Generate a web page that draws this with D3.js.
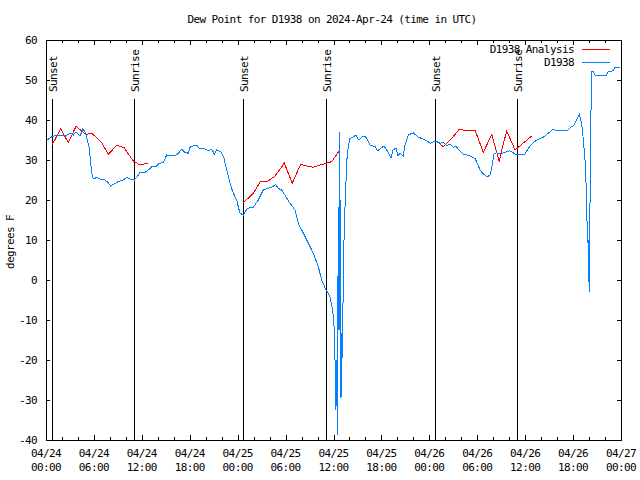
<!DOCTYPE html>
<html>
<head>
<meta charset="utf-8">
<script src="https://cdn.jsdelivr.net/npm/d3@7"></script>
<style>
  html, body { margin: 0; padding: 0; background: #fff; }
  svg { display: block; }
  text { font-family: "DejaVu Sans Mono", "Liberation Mono", monospace; font-size: 11px; letter-spacing: -0.6px; fill: #000; }
</style>
</head>
<body>
<svg id="chart" width="640" height="480"></svg>
<script>
// ---- Data (hours since 2024-04-24 00:00 UTC) ----
const title = "Dew Point for D1938 on 2024-Apr-24 (time in UTC)";
const yLabel = "degrees F";
const seriesNames = ["D1938 Analysis", "D1938"];
const seriesColors = ["#ff0000", "#0080ff"];

const xTickHours = [0, 6, 12, 18, 24, 30, 36, 42, 48, 54, 60, 66, 72];
const xTickDates = ["04/24","04/24","04/24","04/24","04/25","04/25","04/25","04/25","04/26","04/26","04/26","04/26","04/27"];
const xTickTimes = ["00:00","06:00","12:00","18:00","00:00","06:00","12:00","18:00","00:00","06:00","12:00","18:00","00:00"];
const xMinorHours = d3.range(0, 73, 2);
const yTicks = [-40, -30, -20, -10, 0, 10, 20, 30, 40, 50, 60];

const sunHours = [0.71, 11.06, 24.71, 35.10, 48.75, 59.02];
const sunLabels = ["Sunset", "Sunrise", "Sunset", "Sunrise", "Sunset", "Sunrise"];

// Analysis (red), null = gap
const redHours = [0.75, 1.84, 2.79, 3.76, 4.47, 4.97, 5.72, 6.97, 7.80, 8.85, 9.77, 10.93, 11.77, 12.81,
  18.0,
  24.71, 25.96, 26.80, 27.84, 28.68, 29.84, 30.84, 31.89, 32.72, 33.47, 34.22, 35.15, 35.78, 36.69,
  42.0,
  49.25, 49.75, 50.80, 51.75, 52.68, 53.72, 54.76, 55.81, 56.76, 57.0, 57.69, 58.73, 59.02, 60.82];
const redValues = [33.75, 37.75, 34.4, 38.4, 37.25, 36.4, 36.7, 34.4, 31.4, 33.7, 33.1, 29.75, 28.75, 29.25,
  null,
  19.3, 21.7, 24.5, 24.75, 26.0, 29.2, 24.2, 28.9, 28.5, 28.2, 28.7, 29.2, 29.6, 32.25,
  null,
  34.2, 33.3, 35.4, 37.7, 37.25, 37.5, 31.9, 36.4, 29.6, 32.0, 37.25, 32.5, 33.0, 36.0];

// Observations (blue)
const blueHours = [0.15, 0.71, 1.34, 1.97, 2.59, 3.09, 3.42, 3.76, 4.26, 4.60, 4.88, 5.17, 5.42, 5.60, 5.80,
  6.01, 6.35, 6.76, 7.39, 7.80, 8.10, 8.51, 9.05, 9.68, 10.10, 10.52, 11.06, 11.43, 11.77, 12.40, 12.81,
  13.24, 13.86, 14.15, 14.69, 15.11, 15.53, 16.37, 16.99, 17.41, 17.82, 18.03, 18.44, 18.87, 19.20, 19.91,
  20.32, 20.75, 21.07, 21.37, 21.91, 22.29, 22.63, 23.04, 23.38, 23.67, 23.88, 24.08, 24.29, 24.71, 25.21,
  25.96, 26.58, 27.21, 27.84, 28.26, 28.76, 29.09, 29.51, 30.05, 30.55, 31.18, 31.59, 32.22, 32.85, 33.47,
  34.10, 34.52, 35.02, 35.56, 35.85, 35.97, 36.10, 36.19, 36.31, 36.38, 36.48, 36.54, 36.60, 36.66, 36.72,
  36.79, 36.85, 36.94, 37.03, 37.10, 37.23, 37.35, 37.53, 37.65, 37.85, 38.07, 38.48, 38.82, 39.11, 39.41,
  39.73, 40.07, 40.57, 40.98, 41.28, 41.49, 41.82, 42.32, 42.82, 43.20, 43.45, 43.83, 44.08, 44.33, 44.74,
  44.95, 45.37, 45.99, 46.62, 47.04, 47.67, 48.17, 48.75, 49.34, 49.75, 50.18, 50.59, 51.00, 51.30, 51.63,
  52.25, 53.09, 53.72, 54.00, 54.35, 54.76, 55.26, 55.60, 55.81, 56.10, 56.44, 56.85, 57.26, 58.10, 58.73,
  59.98, 60.39, 60.82, 61.44, 62.27, 62.90, 63.52, 64.02, 65.40, 65.70, 66.03, 66.45, 66.78, 66.95, 67.16,
  67.28, 67.41, 67.53, 67.62, 67.71, 67.83, 67.91, 67.96, 68.03, 68.08, 68.21, 68.33, 68.53, 68.75, 70.21,
  70.41, 71.04, 71.25, 71.88];
const blueValues = [35.0, 35.8, 36.2, 36.0, 36.2, 36.7, 36.25, 37.0, 36.0, 37.7, 37.1, 35.0, 32.9, 29.2, 25.8,
  25.25, 25.7, 25.25, 25.0, 24.3, 23.5, 24.0, 24.6, 25.0, 25.7, 25.2, 25.0, 25.8, 26.9, 26.9, 27.5,
  28.3, 28.5, 29.2, 29.3, 31.25, 31.2, 31.25, 32.7, 31.9, 31.7, 33.2, 33.5, 33.7, 32.9, 32.8,
  32.3, 32.7, 31.5, 32.5, 32.1, 30.4, 27.5, 24.2, 22.1, 20.8, 20.0, 18.3, 16.7, 16.25, 17.9,
  18.2, 20.0, 22.5, 22.9, 23.2, 23.9, 22.9, 22.5, 20.8, 19.2, 17.5, 14.2, 11.7, 9.2, 6.7,
  3.3, 0.0, -2.3, -4.2, -7.1, -9.0, -12.5, -20.0, -32.5, -20.0, -38.75, -12.5, 18.3, -12.5, 37.1,
  -12.5, 20.0, -29.6, -13.3, -19.6, 0.0, 13.75, 22.5, 29.6, 33.3, 35.4, 35.8, 36.25, 35.0, 35.4,
  36.0, 35.7, 33.75, 33.5, 33.3, 32.3, 32.75, 33.5, 32.0, 30.5, 32.5, 33.0, 31.0, 31.8, 31.0,
  33.75, 36.25, 36.8, 35.7, 35.4, 34.75, 34.2, 34.75, 34.2, 34.4, 33.6, 33.9, 33.2, 33.5, 32.7,
  31.5, 31.0, 30.4, 29.2, 27.5, 26.5, 25.8, 26.25, 27.9, 31.5, 31.8, 31.5, 31.8, 32.3, 31.5,
  31.5, 32.9, 34.0, 35.0, 35.7, 36.7, 37.7, 37.25, 37.5, 38.2, 38.5, 40.0, 41.5, 40.2, 37.9,
  35.0, 32.1, 29.2, 24.2, 17.1, 9.2, 10.0, 1.7, -2.9, 10.8, 38.3, 52.1, 52.1, 51.25, 51.25,
  52.1, 52.3, 53.2, 53.2];

// ---- Layout ----
const L = 46, R = 621, T = 40, B = 440;
const svg = d3.select("#chart");
const x = d3.scaleLinear().domain([0, 72]).range([L, R]);
const y = d3.scaleLinear().domain([-40, 60]).range([B, T]);

// Title
svg.append("text").attr("x", 332).attr("y", 23).attr("text-anchor", "middle").text(title);

// Y axis label
svg.append("text").attr("transform", "translate(14,242) rotate(-90)")
  .attr("text-anchor", "middle").text(yLabel);

// Clip
svg.append("defs").append("clipPath").attr("id", "clip")
  .append("rect").attr("x", L).attr("y", T).attr("width", R - L).attr("height", B - T);

// Axes (ticks inward)
function styleAxis(g) {
  g.select(".domain").remove();
  g.selectAll(".tick line").attr("stroke", "#000").attr("shape-rendering", "crispEdges");
}
svg.append("g").attr("transform", `translate(0,${B})`)
  .call(d3.axisBottom(x).tickValues(xMinorHours).tickSize(-3).tickFormat(""))
  .call(styleAxis);
svg.append("g").attr("transform", `translate(0,${T})`)
  .call(d3.axisTop(x).tickValues(xMinorHours).tickSize(-3).tickFormat(""))
  .call(styleAxis);
svg.append("g").attr("transform", `translate(0,${B})`)
  .call(d3.axisBottom(x).tickValues(xTickHours).tickSize(-5).tickFormat(""))
  .call(styleAxis);
svg.append("g").attr("transform", `translate(0,${T})`)
  .call(d3.axisTop(x).tickValues(xTickHours).tickSize(-5).tickFormat(""))
  .call(styleAxis);
svg.append("g").attr("transform", `translate(${L},0)`)
  .call(d3.axisLeft(y).tickValues(yTicks).tickSize(-4).tickFormat(""))
  .call(styleAxis);
svg.append("g").attr("transform", `translate(${R},0)`)
  .call(d3.axisRight(y).tickValues(yTicks).tickSize(-4).tickFormat(""))
  .call(styleAxis);

// Y tick labels
svg.append("g").selectAll("text").data(yTicks).join("text")
  .attr("x", 37).attr("y", d => y(d) + 4).attr("text-anchor", "end").text(d => d);

// X tick labels (two lines)
const xl = svg.append("g").selectAll("text").data(xTickHours).join("text")
  .attr("text-anchor", "middle");
xl.append("tspan").attr("x", d => x(d)).attr("y", 457).text((d, i) => xTickDates[i]);
xl.append("tspan").attr("x", d => x(d)).attr("y", 471).text((d, i) => xTickTimes[i]);

// Sunrise / sunset markers
const sun = svg.append("g");
sun.selectAll("line").data(sunHours).join("line")
  .attr("x1", d => Math.round(x(d)) + 0.5).attr("x2", d => Math.round(x(d)) + 0.5)
  .attr("y1", 99).attr("y2", B).attr("stroke", "#000").attr("stroke-width", 1);
sun.selectAll("text").data(sunHours).join("text")
  .attr("transform", d => `translate(${Math.round(x(d)) + 5},92) rotate(-90)`)
  .attr("text-anchor", "start").text((d, i) => sunLabels[i]);

// Lines
const plot = svg.append("g").attr("clip-path", "url(#clip)");
const line = d3.line().defined(d => d[1] !== null).x(d => x(d[0])).y(d => y(d[1]));
const redData = redHours.map((h, i) => [h, redValues[i]]);
const blueData = blueHours.map((h, i) => [h, blueValues[i]]);
plot.append("path").datum(redData).attr("d", line)
  .attr("fill", "none").attr("stroke", seriesColors[0]).attr("stroke-width", 1)
  .attr("shape-rendering", "crispEdges");
plot.append("path").datum(blueData).attr("d", line)
  .attr("fill", "none").attr("stroke", seriesColors[1]).attr("stroke-width", 1)
  .attr("shape-rendering", "crispEdges");

// Border
svg.append("rect").attr("x", L + 0.5).attr("y", T + 0.5).attr("width", R - L).attr("height", B - T)
  .attr("fill", "none").attr("stroke", "#000").attr("stroke-width", 1);

// Legend
const leg = svg.append("g");
[0, 1].forEach(i => {
  const ly = 49 + i * 13;
  leg.append("text").attr("x", 574).attr("y", ly + 4).attr("text-anchor", "end").text(seriesNames[i]);
  leg.append("line").attr("x1", 582).attr("x2", 610).attr("y1", ly + 0.5).attr("y2", ly + 0.5)
    .attr("stroke", seriesColors[i]).attr("stroke-width", 1);
});
</script>
</body>
</html>
